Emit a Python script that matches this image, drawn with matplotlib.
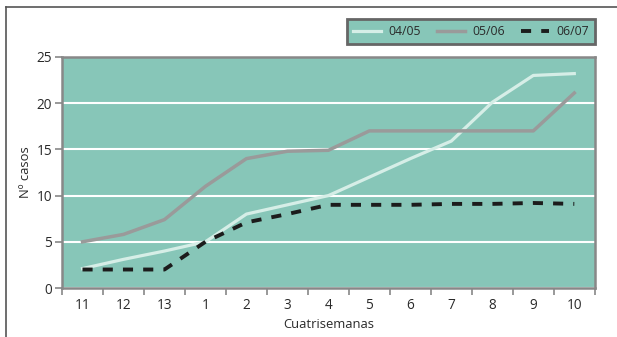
import matplotlib
matplotlib.use('Agg')
import matplotlib.pyplot as plt
import numpy as np
from matplotlib.lines import Line2D

# cuatrisemanas (orden del grafico)
cuatris = ['11', '12', '13', '1', '2', '3', '4', '5', '6', '7', '8', '9', '10']

# casos por temporada
t0405 = [2.1, 3.1, 4.0, 5.0, 8.0, 9.0, 10.0, 12.0, 14.0, 15.9, 20.1, 23.0, 23.2]
t0506 = [5.0, 5.8, 7.4, 11.0, 14.0, 14.8, 14.9, 17.0, 17.0, 17.0, 17.0, 17.0, 21.1]
t0607 = [2.0, 2.0, 2.0, 5.0, 7.1, 8.0, 9.0, 9.0, 9.0, 9.1, 9.1, 9.2, 9.1]

plt.rcParams['font.family'] = ['Open Sans', 'DejaVu Sans']

teal = '#87c6b8'
texto = '#2a2a2a'

fig = plt.figure(figsize=(6.17, 3.37), dpi=100)
ax = fig.add_axes([0.1005, 0.1454, 0.8635, 0.6856])
ax.set_facecolor(teal)

x = np.arange(len(cuatris))
ax.plot(x, t0405, color='#d6eee7', lw=2.3, label='04/05')
ax.plot(x, t0506, color='#9a9a9a', lw=2.5, label='05/06')
ax.plot(x, t0607, color='#1c1c1c', lw=2.8, dashes=(2.6, 2.6), label='06/07')

ax.set_xlim(-0.5, len(cuatris) - 0.5)
ax.set_ylim(0, 25)
ax.set_yticks([0, 5, 10, 15, 20, 25])
ax.yaxis.grid(True, color='white', lw=1.5)
ax.set_axisbelow(True)

ax.set_xticks(x)
ax.set_xticklabels(cuatris)
ax.set_xticks(np.arange(-0.5, len(cuatris)), minor=True)
ax.tick_params(axis='x', which='major', length=0, pad=7, labelsize=9.8, labelcolor=texto)
ax.tick_params(axis='x', which='minor', length=5, width=1.2, color='#888888')
ax.tick_params(axis='y', length=5, width=1.2, color='#888888', labelsize=9.8, labelcolor=texto, pad=2)

for s in ax.spines.values():
    s.set_color('#888888')
    s.set_linewidth(1.8)

ax.set_xlabel('Cuatrisemanas', fontsize=9.4, color=texto, labelpad=4)
ax.set_ylabel('Nº casos', fontsize=9.4, color=texto, labelpad=3)

leg = fig.legend(loc='upper right', bbox_to_anchor=(0.974, 0.961), ncol=3,
                 fontsize=8.8, frameon=True, fancybox=False, handlelength=2.3,
                 columnspacing=1.3, handletextpad=0.6, borderpad=0.5)
leg.get_frame().set_facecolor(teal)
leg.get_frame().set_edgecolor('#666666')
leg.get_frame().set_linewidth(2)
leg.get_frame().set_alpha(1)
for t in leg.get_texts():
    t.set_color(texto)

# marco de la pagina (arriba e izquierda)
fig.add_artist(Line2D([0.0097, 1.0], [0.979, 0.979], color='#555555', lw=1.2, transform=fig.transFigure))
fig.add_artist(Line2D([0.0097, 0.0097], [0.0, 0.979], color='#555555', lw=1.2, transform=fig.transFigure))

fig.savefig('out.png', dpi=100, facecolor='white')
